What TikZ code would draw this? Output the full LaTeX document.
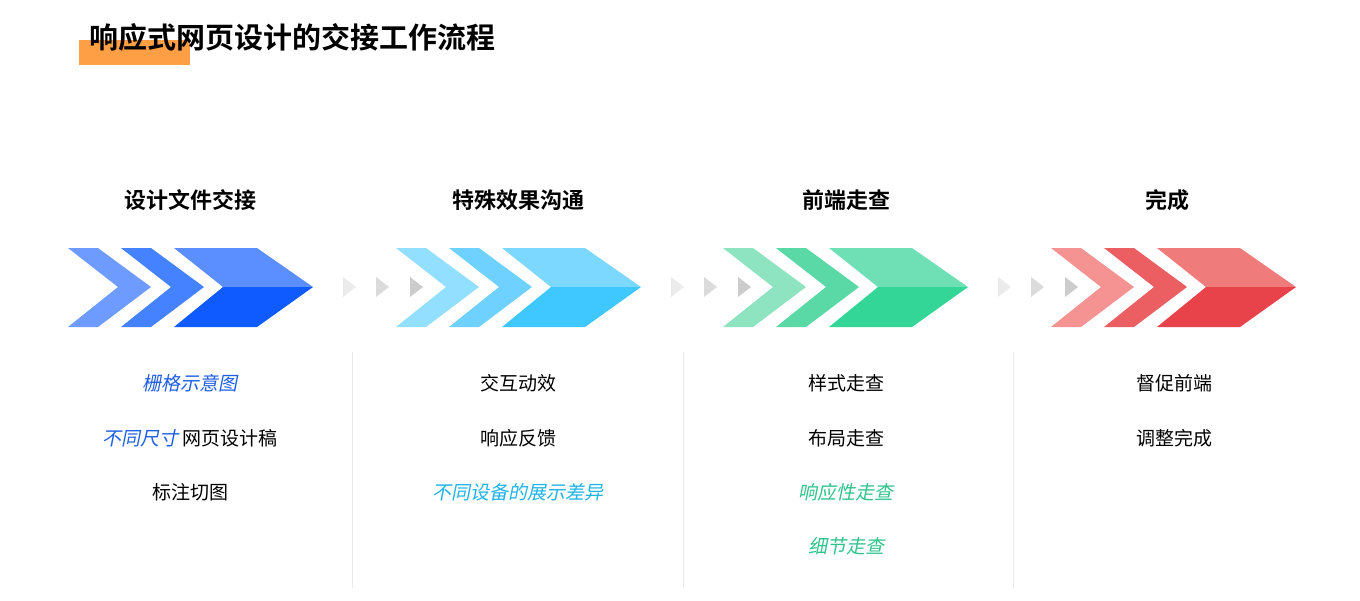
\documentclass[tikz,border=0pt]{standalone}
\usepackage{fontspec}
\setmainfont{Noto Sans CJK SC}
\newfontfamily\slantcjk[FakeSlant=0.2]{Noto Sans CJK SC}
\newfontfamily\boldcjk{Noto Sans CJK SC Bold}
\definecolor{bluea}{HTML}{6E9BFF}
\definecolor{blueb}{HTML}{4582FF}
\definecolor{bluec}{HTML}{5B8EFF}
\definecolor{blued}{HTML}{0F5BFF}
\definecolor{cyana}{HTML}{93DFFF}
\definecolor{cyanb}{HTML}{6ED1FF}
\definecolor{cyanc}{HTML}{7DD8FF}
\definecolor{cyand}{HTML}{3FC8FF}
\definecolor{greena}{HTML}{8EE3C0}
\definecolor{greenb}{HTML}{5AD8A6}
\definecolor{greenc}{HTML}{6FE0B6}
\definecolor{greend}{HTML}{34D697}
\definecolor{reda}{HTML}{F59393}
\definecolor{redb}{HTML}{EB5E62}
\definecolor{redc}{HTML}{F07B7B}
\definecolor{redd}{HTML}{E8424A}
\definecolor{orangebar}{HTML}{FF9F45}
\definecolor{blueitem}{HTML}{1F5FE6}
\definecolor{cyanitem}{HTML}{1FB4E8}
\definecolor{greenitem}{HTML}{2EC48C}
% one group of chevrons at horizontal offset #1
\newcommand{\chevgroup}[5]{%
  \begin{scope}[xshift=#1pt]
    \fill[#2] (68,248) -- (98,248) -- (151,287) -- (98,327) -- (68,327) -- (118,287) -- cycle;
    \fill[#3] (121,248) -- (151,248) -- (204,287) -- (151,327) -- (121,327) -- (171,287) -- cycle;
    \fill[#4] (174,248) -- (257,248) -- (313,287) -- (223,287) -- cycle;
    \fill[#5] (223,287) -- (313,287) -- (257,327) -- (174,327) -- cycle;
  \end{scope}}
\begin{document}
\begin{tikzpicture}[
    x=1pt, y=-1pt,
    coltitle/.style={font=\boldcjk\fontsize{22}{26}\selectfont},
    item/.style={font=\fontsize{19}{23}\selectfont},
    slitem/.style={font=\slantcjk\fontsize{19}{23}\selectfont},
    ]
    \useasboundingbox[fill=white] (0,0) rectangle (1360,600);

    \fill[orangebar] (79,40) rectangle (190,65);
    \node[anchor=west, font=\boldcjk\fontsize{29}{34}\selectfont] (title) at (86,37) {响应式网页设计的交接工作流程};

    \chevgroup{0}{bluea}{blueb}{bluec}{blued}
    \chevgroup{328}{cyana}{cyanb}{cyanc}{cyand}
    \chevgroup{655}{greena}{greenb}{greenc}{greend}
    \chevgroup{983}{reda}{redb}{redc}{redd}

    % grey arrows between groups
    \foreach \g in {0,328,655} {
        \foreach \dx/\gr in {0/8,33/14,67/20}
            \fill[black!\gr] (343+\g+\dx,277) -- (356+\g+\dx,287) -- (343+\g+\dx,297) -- cycle;
    }
    \foreach \sx in {352,683,1013}
        \draw[black!8, line width=1pt] (\sx,352) -- (\sx,588);

    \node[coltitle] (t1) at (190,200) {设计文件交接};
    \node[coltitle] (t2) at (518,200) {特殊效果沟通};
    \node[coltitle] (t3) at (846,200) {前端走查};
    \node[coltitle] (t4) at (1167,200) {完成};

    \node[slitem, text=blueitem] (a1) at (190,383) {栅格示意图};
    \node[item] (a2) at (190,438) {{\slantcjk\color{blueitem}不同尺寸} 网页设计稿};
    \node[item] (a3) at (190,492) {标注切图};

    \node[item] (b1) at (518,383) {交互动效};
    \node[item] (b2) at (518,438) {响应反馈};
    \node[slitem, text=cyanitem] (b3) at (518,492) {不同设备的展示差异};

    \node[item] (c1) at (846,383) {样式走查};
    \node[item] (c2) at (846,438) {布局走查};
    \node[slitem, text=greenitem] (c3) at (846,492) {响应性走查};
    \node[slitem, text=greenitem] (c4) at (846,546) {细节走查};

    \node[item] (d1) at (1174,383) {督促前端};
    \node[item] (d2) at (1174,438) {调整完成};
\end{tikzpicture}
\end{document}
